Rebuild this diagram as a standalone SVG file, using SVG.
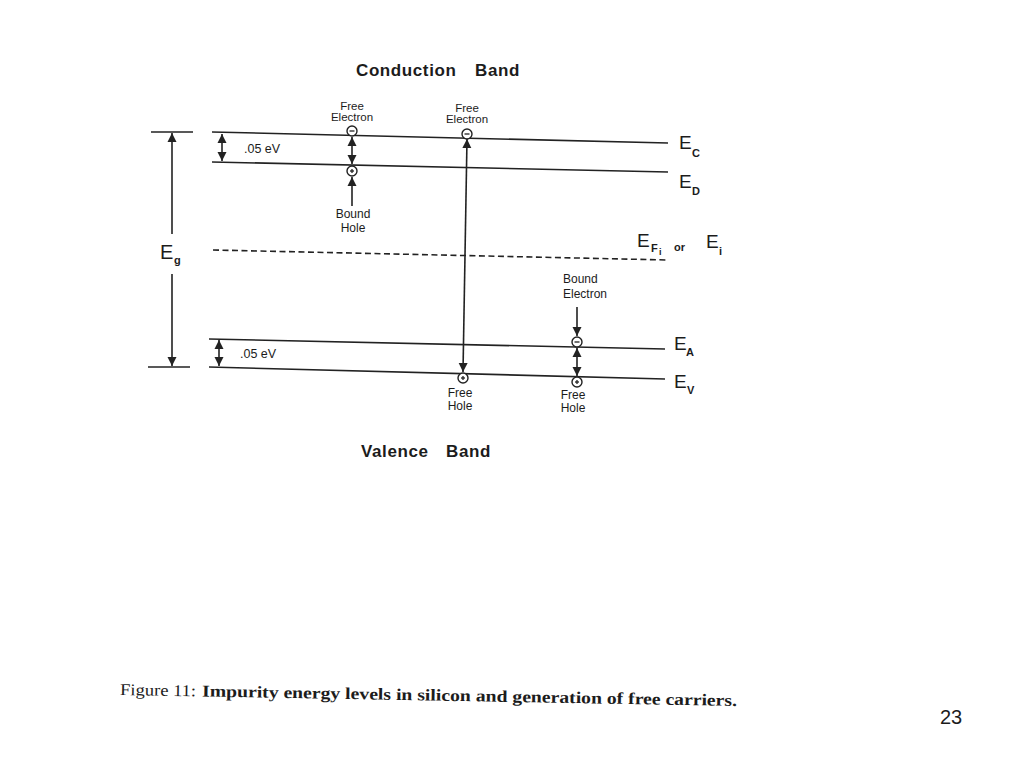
<svg xmlns="http://www.w3.org/2000/svg" width="1024" height="768" viewBox="0 0 1024 768">
<defs>
<marker id="ah" viewBox="0 0 10 10" refX="10" refY="5" markerWidth="9" markerHeight="10" markerUnits="userSpaceOnUse" orient="auto-start-reverse">
<path d="M0,0 L10,5 L0,10 Z" fill="#222"/>
</marker>
</defs>
<style>
.lvl{stroke:#222;stroke-width:1.6;fill:none}
.dash{stroke:#222;stroke-width:1.6;fill:none;stroke-dasharray:6 3.5}
.arr{stroke:#222;stroke-width:1.6;fill:none}
.ring{stroke:#222;stroke-width:1.4;fill:#fff}
.sg{stroke:#222;stroke-width:1.3}
.t{font-family:"Liberation Sans",Arial,sans-serif;fill:#1c1c1c}
.sm{font-size:12px}
.tight{font-size:11.5px}
.band{font-size:17px;font-weight:bold;letter-spacing:0.6px}
.E{font-size:19px}
.sub{font-size:11px;font-weight:bold}
.cap{font-family:"Liberation Serif","Times New Roman",serif;font-size:16.5px;fill:#1c1c1c}
</style>
<rect width="1024" height="768" fill="#fff"/>

<g id="title-conduction"><text class="t band" x="356" y="76">Conduction</text><text class="t band" x="475" y="76">Band</text></g>
<g id="title-valence"><text class="t band" x="361" y="457">Valence</text><text class="t band" x="446" y="457">Band</text></g>

<g id="level-Ec"><line class="lvl" x1="212" y1="132" x2="668" y2="143"/><text class="t E" x="679" y="149">E</text><text class="t sub" x="692" y="157">C</text></g>
<g id="level-Ed"><line class="lvl" x1="212" y1="162" x2="668" y2="172"/><text class="t E" x="679" y="188">E</text><text class="t sub" x="692" y="195">D</text></g>
<g id="level-Efi"><line class="dash" x1="213" y1="250" x2="668" y2="260"/><text class="t E" x="637" y="247">E</text><text class="t sub" x="651" y="252">F</text><text class="t" font-size="9" font-weight="bold" x="659" y="255">i</text><text class="t sub" x="674" y="251">or</text><text class="t E" x="706" y="248">E</text><text class="t sub" x="719" y="255">i</text></g>
<g id="level-Ea"><line class="lvl" x1="209" y1="339" x2="665" y2="349"/><text class="t E" x="674" y="350">E</text><text class="t sub" x="686" y="356">A</text></g>
<g id="level-Ev"><line class="lvl" x1="209" y1="367" x2="665" y2="379"/><text class="t E" x="674" y="388">E</text><text class="t sub" x="687" y="394">V</text></g>

<g id="Eg-gap">
<line class="lvl" x1="151" y1="132" x2="193" y2="132"/>
<line class="lvl" x1="148" y1="367" x2="190" y2="367"/>
<text class="t" font-size="20" x="160" y="259">E</text><text class="t sub" x="174" y="264">g</text>
</g>

<g id="label-05-top"><text class="t" font-size="12.5" x="244" y="153">.05 eV</text></g>
<g id="label-05-bottom"><text class="t" font-size="12.5" x="240" y="358">.05 eV</text></g>

<g id="carrier-free-electron-1"><circle class="ring" cx="352" cy="131" r="5"/><line class="sg" x1="349.5" y1="131" x2="354.5" y2="131"/><text class="t tight" x="352" y="110" text-anchor="middle">Free</text><text class="t tight" x="352" y="121" text-anchor="middle">Electron</text></g>
<g id="carrier-bound-hole"><circle class="ring" cx="352" cy="171" r="5"/><line class="sg" x1="350" y1="171" x2="354" y2="171"/><line class="sg" x1="352" y1="169" x2="352" y2="173"/><text class="t sm" x="353" y="218" text-anchor="middle">Bound</text><text class="t sm" x="353" y="232" text-anchor="middle">Hole</text></g>
<g id="carrier-free-electron-2"><circle class="ring" cx="467" cy="134" r="5"/><line class="sg" x1="464.5" y1="134" x2="469.5" y2="134"/><text class="t tight" x="467" y="112" text-anchor="middle">Free</text><text class="t tight" x="467" y="123" text-anchor="middle">Electron</text></g>
<g id="carrier-free-hole-1"><circle class="ring" cx="463" cy="378" r="5"/><line class="sg" x1="461" y1="378" x2="465" y2="378"/><line class="sg" x1="463" y1="376" x2="463" y2="380"/><text class="t sm" x="460" y="397" text-anchor="middle">Free</text><text class="t sm" x="460" y="410" text-anchor="middle">Hole</text></g>
<g id="carrier-bound-electron"><circle class="ring" cx="577" cy="342" r="5"/><line class="sg" x1="574.5" y1="342" x2="579.5" y2="342"/><text class="t sm" x="563" y="283">Bound</text><text class="t sm" x="563" y="298">Electron</text></g>
<g id="carrier-free-hole-2"><circle class="ring" cx="577" cy="382" r="5"/><line class="sg" x1="575" y1="382" x2="579" y2="382"/><line class="sg" x1="577" y1="380" x2="577" y2="384"/><text class="t sm" x="573" y="399" text-anchor="middle">Free</text><text class="t sm" x="573" y="412" text-anchor="middle">Hole</text></g>

<g id="connectors">
<line class="arr" x1="172" y1="234" x2="172" y2="133" marker-end="url(#ah)"/>
<line class="arr" x1="172" y1="274" x2="172" y2="366" marker-end="url(#ah)"/>
<line class="arr" x1="222" y1="134" x2="222" y2="161" marker-start="url(#ah)" marker-end="url(#ah)"/>
<line class="arr" x1="219" y1="340" x2="219" y2="366" marker-start="url(#ah)" marker-end="url(#ah)"/>
<line class="arr" x1="352" y1="137" x2="352" y2="164" marker-start="url(#ah)" marker-end="url(#ah)"/>
<line class="arr" x1="352" y1="206" x2="352" y2="177" marker-end="url(#ah)"/>
<line class="arr" x1="467" y1="139" x2="463" y2="372" marker-start="url(#ah)" marker-end="url(#ah)"/>
<line class="arr" x1="577" y1="307" x2="577" y2="336" marker-end="url(#ah)"/>
<line class="arr" x1="577" y1="348" x2="577" y2="376" marker-start="url(#ah)" marker-end="url(#ah)"/>
</g>

<g id="caption" transform="rotate(1.02 120 695)">
<text class="cap" x="120" y="695" textLength="76" lengthAdjust="spacingAndGlyphs">Figure 11:</text>
<text class="cap" font-weight="bold" x="202" y="695" textLength="535" lengthAdjust="spacingAndGlyphs">Impurity energy levels in silicon and generation of free carriers.</text>
</g>
<g id="page-number"><text class="t" font-size="20" x="940" y="724">23</text></g>
</svg>
